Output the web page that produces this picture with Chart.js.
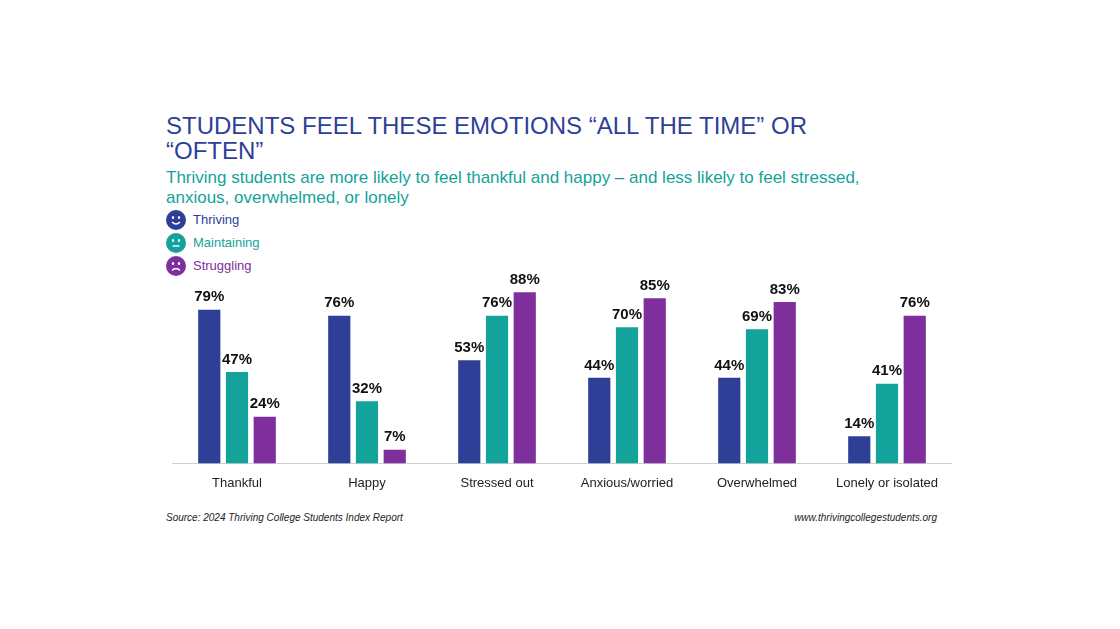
<!DOCTYPE html>
<html><head><meta charset="utf-8">
<script src="https://cdn.jsdelivr.net/npm/chart.js@4"></script>
<style>
body{margin:0;width:1120px;height:629px;background:#fff;font-family:"Liberation Sans",Arial,sans-serif;position:relative;overflow:hidden}
#title{position:absolute;left:166px;top:113px;width:730px;font-size:24px;line-height:25px;color:#2e3f97}
#sub{position:absolute;left:166px;top:168px;width:760px;font-size:17px;line-height:20px;color:#14a39a}
#legend{position:absolute;left:166px;top:208px;font-size:13px}
.li{display:flex;align-items:center;height:23px}
.li svg{margin-right:7px}
#wrap{position:absolute;left:172px;top:269px;width:780px;height:226px}
.foot{position:absolute;top:512px;font-size:10px;font-style:italic;color:#222}
</style></head><body>
<div id="title">STUDENTS FEEL THESE EMOTIONS “ALL THE TIME” OR “OFTEN”</div>
<div id="sub">Thriving students are more likely to feel thankful and happy – and less likely to feel stressed, anxious, overwhelmed, or lonely</div>
<div id="legend"></div>
<div id="wrap"><canvas id="myChart"></canvas></div>
<div class="foot" style="left:166px">Source: 2024 Thriving College Students Index Report</div>
<div class="foot" style="right:183px">www.thrivingcollegestudents.org</div>
<script>
const categories = ['Thankful', 'Happy', 'Stressed out', 'Anxious/worried', 'Overwhelmed', 'Lonely or isolated'];
const thriving = [79, 76, 53, 44, 44, 14];
const maintaining = [47, 32, 76, 70, 69, 41];
const struggling = [24, 7, 88, 85, 83, 76];
const seriesNames = ['Thriving', 'Maintaining', 'Struggling'];
const colors = ['#2e3f97', '#14a39a', '#7e2f9b'];
const mouths = ['M6 12 Q10 16 14 12', 'M6.5 13 L13.5 13', 'M6 14.5 Q10 10.5 14 14.5'];

const legend = document.getElementById('legend');
seriesNames.forEach((n, i) => {
    legend.innerHTML += '<div class="li"><svg width="20" height="20" viewBox="0 0 20 20">' +
        '<circle cx="10" cy="10" r="10" fill="' + colors[i] + '"/>' +
        '<ellipse cx="7" cy="7.5" rx="1.2" ry="1.6" fill="#fff"/><ellipse cx="13" cy="7.5" rx="1.2" ry="1.6" fill="#fff"/>' +
        '<path d="' + mouths[i] + '" stroke="#fff" stroke-width="1.4" fill="none"/></svg>' +
        '<span style="color:' + colors[i] + '">' + n + '</span></div>';
});

const labelPlugin = {
    id: 'labels',
    afterDatasetsDraw(chart) {
        const c = chart.ctx;
        c.save();
        c.font = 'bold 15px "Liberation Sans", Arial';
        c.fillStyle = '#111';
        c.textAlign = 'center';
        c.textBaseline = 'bottom';
        chart.data.datasets.forEach((ds, i) => {
            chart.getDatasetMeta(i).data.forEach((bar, j) => {
                c.fillText(ds.data[j] + '%', bar.x, bar.y - 5);
            });
        });
        c.restore();
    }
};

new Chart(document.getElementById('myChart'), {
    type: 'bar',
    data: {
        labels: categories,
        datasets: [thriving, maintaining, struggling].map((d, i) => ({
            label: seriesNames[i], data: d, backgroundColor: colors[i],
            categoryPercentage: 0.64, barPercentage: 0.8
        }))
    },
    options: {
        responsive: true, maintainAspectRatio: false, animation: false,
        plugins: { legend: { display: false }, tooltip: { enabled: false } },
        scales: {
            y: { display: false, min: 0, max: 100 },
            x: {
                grid: { display: false },
                border: { color: '#d0d0d0' },
                ticks: { color: '#222', font: { size: 13, family: '"Liberation Sans", Arial' }, padding: 4 }
            }
        }
    },
    plugins: [labelPlugin]
});
</script>
</body></html>
